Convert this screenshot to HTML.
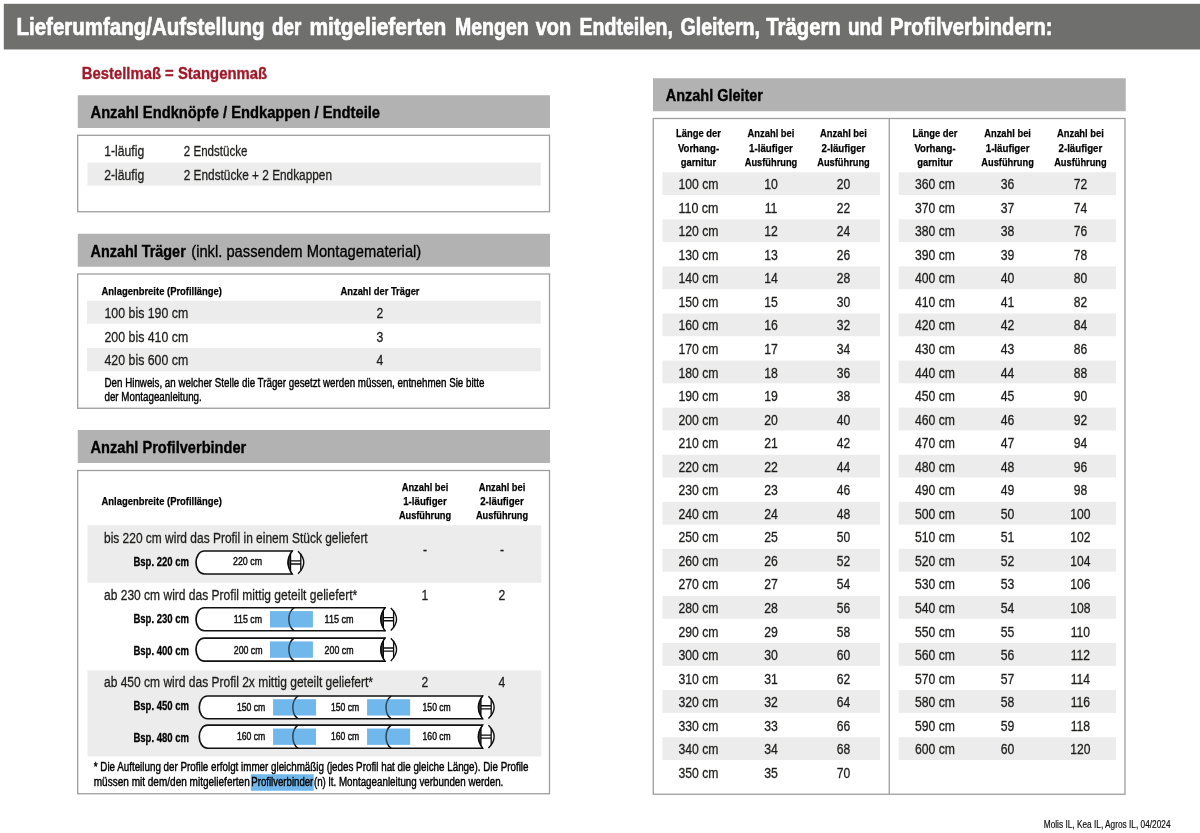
<!DOCTYPE html>
<html lang="de"><head><meta charset="utf-8"><title>Lieferumfang</title>
<style>html,body{margin:0;padding:0;background:#fff}svg{display:block}text{font-family:"Liberation Sans",sans-serif;fill:#1d1d1b;stroke:#1d1d1b;stroke-width:.22px;stroke-linejoin:round}.b{font-weight:bold;stroke-width:.5px}</style></head>
<body>
<svg width="1200" height="833" viewBox="0 0 1200 833" >
<rect x="3.8" y="3.8" width="1196.2" height="45.65" fill="#6f6f6e"/>
<text y="35.35" font-size="23.4" class="b" style="stroke-width:0.7px;fill:#fff;stroke:#fff"><tspan x="16.5" textLength="248" lengthAdjust="spacingAndGlyphs">Lieferumfang/Aufstellung</tspan> <tspan x="272" textLength="29.25" lengthAdjust="spacingAndGlyphs">der</tspan> <tspan x="309.5" textLength="136.75" lengthAdjust="spacingAndGlyphs">mitgelieferten</tspan> <tspan x="455" textLength="73.75" lengthAdjust="spacingAndGlyphs">Mengen</tspan> <tspan x="535.75" textLength="35.5" lengthAdjust="spacingAndGlyphs">von</tspan> <tspan x="579.5" textLength="93.5" lengthAdjust="spacingAndGlyphs">Endteilen,</tspan> <tspan x="680.5" textLength="79.5" lengthAdjust="spacingAndGlyphs">Gleitern,</tspan> <tspan x="766.25" textLength="74.5" lengthAdjust="spacingAndGlyphs">Trägern</tspan> <tspan x="848" textLength="34.5" lengthAdjust="spacingAndGlyphs">und</tspan> <tspan x="890" textLength="162.5" lengthAdjust="spacingAndGlyphs">Profilverbindern:</tspan></text>
<text x="81.75" y="79" font-size="17.26" class="b" style="stroke-width:0.37px;fill:#a01a2a;stroke:#a01a2a" textLength="185.25" lengthAdjust="spacingAndGlyphs">Bestellmaß = Stangenmaß</text>
<rect x="77.75" y="95.25" width="472.25" height="32.75" fill="#b2b2b2"/>
<text x="90.5" y="118.25" font-size="16.43" class="b" style="stroke-width:0.35px;fill:#000;stroke:#000" textLength="289.5" lengthAdjust="spacingAndGlyphs">Anzahl Endknöpfe / Endkappen / Endteile</text>
<rect x="77.7" y="135.3" width="471.8" height="76.45" fill="#fff" stroke="#9e9e9e" stroke-width="1.3"/>
<rect x="87.5" y="162.6" width="453.25" height="22.9" fill="#ececec"/>
<text x="104.25" y="156.25" font-size="14.56" style="stroke-width:0.29px" textLength="40" lengthAdjust="spacingAndGlyphs">1-läufig</text>
<text x="183.75" y="156.25" font-size="14.56" style="stroke-width:0.29px" textLength="63.75" lengthAdjust="spacingAndGlyphs">2 Endstücke</text>
<text x="104.25" y="179.75" font-size="14.56" style="stroke-width:0.29px" textLength="40" lengthAdjust="spacingAndGlyphs">2-läufig</text>
<text x="183.75" y="179.75" font-size="14.56" style="stroke-width:0.29px" textLength="148.25" lengthAdjust="spacingAndGlyphs">2 Endstücke + 2 Endkappen</text>
<rect x="77.75" y="233.75" width="472.25" height="33" fill="#b2b2b2"/>
<text x="90.5" y="257" font-size="16.43" class="b" style="stroke-width:0.35px;fill:#000;stroke:#000" textLength="95.25" lengthAdjust="spacingAndGlyphs">Anzahl Träger</text>
<text x="191.25" y="257" font-size="16.43" style="stroke-width:0.33px;fill:#000;stroke:#000" textLength="230" lengthAdjust="spacingAndGlyphs">(inkl. passendem Montagematerial)</text>
<rect x="77.7" y="274" width="471.8" height="134.25" fill="#fff" stroke="#9e9e9e" stroke-width="1.3"/>
<rect x="87" y="300.75" width="453.75" height="23" fill="#ececec"/>
<rect x="87" y="348" width="453.75" height="23.25" fill="#ececec"/>
<text x="101.5" y="295" font-size="11.65" class="b" style="stroke-width:0.25px;fill:#000;stroke:#000" textLength="120.5" lengthAdjust="spacingAndGlyphs">Anlagenbreite (Profillänge)</text>
<text x="340.5" y="295" font-size="11.65" class="b" style="stroke-width:0.25px;fill:#000;stroke:#000" textLength="79" lengthAdjust="spacingAndGlyphs">Anzahl der Träger</text>
<text x="104.5" y="318" font-size="14.56" style="stroke-width:0.29px" textLength="83.75" lengthAdjust="spacingAndGlyphs">100 bis 190 cm</text>
<text x="376.61" y="318" font-size="14.56" style="stroke-width:0.29px" textLength="6.77" lengthAdjust="spacingAndGlyphs">2</text>
<text x="104.5" y="341.5" font-size="14.56" style="stroke-width:0.29px" textLength="83.75" lengthAdjust="spacingAndGlyphs">200 bis 410 cm</text>
<text x="376.61" y="341.5" font-size="14.56" style="stroke-width:0.29px" textLength="6.77" lengthAdjust="spacingAndGlyphs">3</text>
<text x="104.5" y="365" font-size="14.56" style="stroke-width:0.29px" textLength="83.75" lengthAdjust="spacingAndGlyphs">420 bis 600 cm</text>
<text x="376.61" y="365" font-size="14.56" style="stroke-width:0.29px" textLength="6.77" lengthAdjust="spacingAndGlyphs">4</text>
<text x="104.5" y="387" font-size="12.48" style="stroke-width:0.42px;fill:#000;stroke:#000" textLength="380" lengthAdjust="spacingAndGlyphs">Den Hinweis, an welcher Stelle die Träger gesetzt werden müssen, entnehmen Sie bitte</text>
<text x="104.5" y="400.75" font-size="12.48" style="stroke-width:0.42px;fill:#000;stroke:#000" textLength="97.25" lengthAdjust="spacingAndGlyphs">der Montageanleitung.</text>
<rect x="77.75" y="430" width="472.25" height="33" fill="#b2b2b2"/>
<text x="90.5" y="453.25" font-size="16.43" class="b" style="stroke-width:0.35px;fill:#000;stroke:#000" textLength="155.75" lengthAdjust="spacingAndGlyphs">Anzahl Profilverbinder</text>
<rect x="77.7" y="470.5" width="471.8" height="323.25" fill="#fff" stroke="#9e9e9e" stroke-width="1.3"/>
<rect x="87.5" y="525.3" width="453.7" height="57.5" fill="#ececec"/>
<rect x="87.5" y="670.4" width="453.7" height="86.1" fill="#ececec"/>
<text x="101.5" y="505" font-size="11.65" class="b" style="stroke-width:0.25px;fill:#000;stroke:#000" textLength="120.5" lengthAdjust="spacingAndGlyphs">Anlagenbreite (Profillänge)</text>
<text x="401.7" y="491.1" font-size="11.65" class="b" style="stroke-width:0.25px;fill:#000;stroke:#000" textLength="46.6" lengthAdjust="spacingAndGlyphs">Anzahl bei</text>
<text x="403.2" y="505.1" font-size="11.65" class="b" style="stroke-width:0.25px;fill:#000;stroke:#000" textLength="43.6" lengthAdjust="spacingAndGlyphs">1-läufiger</text>
<text x="398.9" y="519.2" font-size="11.65" class="b" style="stroke-width:0.25px;fill:#000;stroke:#000" textLength="52.2" lengthAdjust="spacingAndGlyphs">Ausführung</text>
<text x="478.7" y="491.1" font-size="11.65" class="b" style="stroke-width:0.25px;fill:#000;stroke:#000" textLength="46.6" lengthAdjust="spacingAndGlyphs">Anzahl bei</text>
<text x="480.2" y="505.1" font-size="11.65" class="b" style="stroke-width:0.25px;fill:#000;stroke:#000" textLength="43.6" lengthAdjust="spacingAndGlyphs">2-läufiger</text>
<text x="475.9" y="519.2" font-size="11.65" class="b" style="stroke-width:0.25px;fill:#000;stroke:#000" textLength="52.2" lengthAdjust="spacingAndGlyphs">Ausführung</text>
<text x="104" y="542.5" font-size="14.56" style="stroke-width:0.29px" textLength="263.7" lengthAdjust="spacingAndGlyphs">bis 220 cm wird das Profil in einem Stück geliefert</text>
<text x="104" y="600" font-size="14.56" style="stroke-width:0.29px" textLength="253.25" lengthAdjust="spacingAndGlyphs">ab 230 cm wird das Profil mittig geteilt geliefert*</text>
<text x="104" y="687.2" font-size="14.56" style="stroke-width:0.29px" textLength="269" lengthAdjust="spacingAndGlyphs">ab 450 cm wird das Profil 2x mittig geteilt geliefert*</text>
<text x="422.97" y="554.5" font-size="14.56" style="stroke-width:0.29px" textLength="4.06" lengthAdjust="spacingAndGlyphs">-</text>
<text x="499.97" y="554.5" font-size="14.56" style="stroke-width:0.29px" textLength="4.06" lengthAdjust="spacingAndGlyphs">-</text>
<text x="421.61" y="600" font-size="14.56" style="stroke-width:0.29px" textLength="6.77" lengthAdjust="spacingAndGlyphs">1</text>
<text x="498.61" y="600" font-size="14.56" style="stroke-width:0.29px" textLength="6.77" lengthAdjust="spacingAndGlyphs">2</text>
<text x="421.61" y="687.2" font-size="14.56" style="stroke-width:0.29px" textLength="6.77" lengthAdjust="spacingAndGlyphs">2</text>
<text x="498.61" y="687.2" font-size="14.56" style="stroke-width:0.29px" textLength="6.77" lengthAdjust="spacingAndGlyphs">4</text>
<text x="133.4" y="565.9" font-size="12.06" class="b" style="stroke-width:0.26px;fill:#000;stroke:#000" textLength="55.7" lengthAdjust="spacingAndGlyphs">Bsp. 220 cm</text>
<text x="133.4" y="623.4" font-size="12.06" class="b" style="stroke-width:0.26px;fill:#000;stroke:#000" textLength="55.7" lengthAdjust="spacingAndGlyphs">Bsp. 230 cm</text>
<text x="133.4" y="655.2" font-size="12.06" class="b" style="stroke-width:0.26px;fill:#000;stroke:#000" textLength="55.7" lengthAdjust="spacingAndGlyphs">Bsp. 400 cm</text>
<text x="133.4" y="710" font-size="12.06" class="b" style="stroke-width:0.26px;fill:#000;stroke:#000" textLength="55.7" lengthAdjust="spacingAndGlyphs">Bsp. 450 cm</text>
<text x="133.4" y="741.8" font-size="12.06" class="b" style="stroke-width:0.26px;fill:#000;stroke:#000" textLength="55.7" lengthAdjust="spacingAndGlyphs">Bsp. 480 cm</text>
<g fill="none" stroke="#111" stroke-width="1.7"><path d="M292.4,551 H204.5 C199,551 196,557 196,562.5 C196,568 199,574 204.5,574 H292.4 Z" fill="#fff"/></g>
<ellipse cx="295.5" cy="562.5" rx="7.4" ry="12.1" fill="#fff"/>
<g fill="none" stroke="#0c0c0c"><path d="M292.4,550.8 Q283.5,562.5 292.4,574.2" stroke-width="1.5"/><path d="M290.6,554.01 Q285.6,562.5 290.6,570.99 Z" fill="#444" stroke-width="1.2"/><path d="M298,551.2 Q309.5,562.5 298,573.8" stroke-width="1.4"/><path d="M300.8,553.7 V571.1 M290.6,560.9 H300.8 M290.6,564 H300.8" stroke-width="1.3"/></g>
<text x="233" y="564.6" font-size="11.02" style="stroke-width:0.45px;fill:#111;stroke:#111" textLength="29" lengthAdjust="spacingAndGlyphs">220 cm</text>
<g fill="none" stroke="#111" stroke-width="1.7"><path d="M385.2,607.75 H204.5 C199,607.75 196,613.75 196,619.25 C196,624.75 199,630.75 204.5,630.75 H385.2 Z" fill="#fff"/></g>
<rect x="270" y="611.15" width="42.9" height="16.2" fill="#70b7ec"/>
<path d="M294.05,607.75 C290.45,610.25 288.85,614.25 288.85,619.25 C288.85,624.25 290.45,628.25 294.05,630.75" fill="none" stroke="#111" stroke-width="1.5"/>
<rect x="270" y="611.15" width="42.9" height="16.2" fill="#70b7ec" opacity=".32"/>
<ellipse cx="388.3" cy="619.25" rx="7.4" ry="12.1" fill="#fff"/>
<g fill="none" stroke="#0c0c0c"><path d="M385.2,607.55 Q376.3,619.25 385.2,630.95" stroke-width="1.5"/><path d="M383.4,610.76 Q378.4,619.25 383.4,627.74 Z" fill="#444" stroke-width="1.2"/><path d="M390.8,607.95 Q402.3,619.25 390.8,630.55" stroke-width="1.4"/><path d="M393.6,610.45 V627.85 M383.4,617.65 H393.6 M383.4,620.75 H393.6" stroke-width="1.3"/></g>
<text x="233.75" y="622.7" font-size="11.02" style="stroke-width:0.45px;fill:#111;stroke:#111" textLength="28.25" lengthAdjust="spacingAndGlyphs">115 cm</text>
<text x="324.6" y="622.7" font-size="11.02" style="stroke-width:0.45px;fill:#111;stroke:#111" textLength="28.9" lengthAdjust="spacingAndGlyphs">115 cm</text>
<g fill="none" stroke="#111" stroke-width="1.7"><path d="M385.2,638.05 H204.5 C199,638.05 196,644.1 196,649.6 C196,655.1 199,661.15 204.5,661.15 H385.2 Z" fill="#fff"/></g>
<rect x="270" y="641.5" width="42.9" height="16.2" fill="#70b7ec"/>
<path d="M294.05,638.05 C290.45,640.55 288.85,644.6 288.85,649.6 C288.85,654.6 290.45,658.65 294.05,661.15" fill="none" stroke="#111" stroke-width="1.5"/>
<rect x="270" y="641.5" width="42.9" height="16.2" fill="#70b7ec" opacity=".32"/>
<ellipse cx="388.3" cy="649.6" rx="7.4" ry="12.15" fill="#fff"/>
<g fill="none" stroke="#0c0c0c"><path d="M385.2,637.85 Q376.3,649.6 385.2,661.35" stroke-width="1.5"/><path d="M383.4,641.07 Q378.4,649.6 383.4,658.13 Z" fill="#444" stroke-width="1.2"/><path d="M390.8,638.25 Q402.3,649.6 390.8,660.95" stroke-width="1.4"/><path d="M393.6,640.8 V658.2 M383.4,648 H393.6 M383.4,651.1 H393.6" stroke-width="1.3"/></g>
<text x="233.75" y="653.5" font-size="11.02" style="stroke-width:0.45px;fill:#111;stroke:#111" textLength="28.85" lengthAdjust="spacingAndGlyphs">200 cm</text>
<text x="324.6" y="653.5" font-size="11.02" style="stroke-width:0.45px;fill:#111;stroke:#111" textLength="28.9" lengthAdjust="spacingAndGlyphs">200 cm</text>
<g fill="none" stroke="#111" stroke-width="1.7"><path d="M482.8,696 H207.75 C202.25,696 199.25,701.88 199.25,707.38 C199.25,712.88 202.25,718.75 207.75,718.75 H482.8 Z" fill="#fff"/></g>
<rect x="273.1" y="699.27" width="42.9" height="16.2" fill="#70b7ec"/>
<rect x="367.1" y="699.27" width="43" height="16.2" fill="#70b7ec"/>
<path d="M298.05,696 C294.45,698.5 292.85,702.38 292.85,707.38 C292.85,712.38 294.45,716.25 298.05,718.75" fill="none" stroke="#111" stroke-width="1.5"/>
<path d="M391.25,696 C387.65,698.5 386.05,702.38 386.05,707.38 C386.05,712.38 387.65,716.25 391.25,718.75" fill="none" stroke="#111" stroke-width="1.5"/>
<rect x="273.1" y="699.27" width="42.9" height="16.2" fill="#70b7ec" opacity=".32"/>
<rect x="367.1" y="699.27" width="43" height="16.2" fill="#70b7ec" opacity=".32"/>
<ellipse cx="485.9" cy="707.38" rx="7.4" ry="11.97" fill="#fff"/>
<g fill="none" stroke="#0c0c0c"><path d="M482.8,695.8 Q473.9,707.38 482.8,718.95" stroke-width="1.5"/><path d="M481,698.97 Q476,707.38 481,715.78 Z" fill="#444" stroke-width="1.2"/><path d="M488.4,696.2 Q499.9,707.38 488.4,718.55" stroke-width="1.4"/><path d="M491.2,698.58 V715.98 M481,705.77 H491.2 M481,708.88 H491.2" stroke-width="1.3"/></g>
<text x="236.9" y="710.6" font-size="11.02" style="stroke-width:0.45px;fill:#111;stroke:#111" textLength="28.35" lengthAdjust="spacingAndGlyphs">150 cm</text>
<text x="331" y="710.6" font-size="11.02" style="stroke-width:0.45px;fill:#111;stroke:#111" textLength="28.2" lengthAdjust="spacingAndGlyphs">150 cm</text>
<text x="422.6" y="710.6" font-size="11.02" style="stroke-width:0.45px;fill:#111;stroke:#111" textLength="28.1" lengthAdjust="spacingAndGlyphs">150 cm</text>
<g fill="none" stroke="#111" stroke-width="1.7"><path d="M482.8,725.15 H207.75 C202.25,725.15 199.25,731.2 199.25,736.7 C199.25,742.2 202.25,748.25 207.75,748.25 H482.8 Z" fill="#fff"/></g>
<rect x="273.1" y="728.6" width="42.9" height="16.2" fill="#70b7ec"/>
<rect x="367.1" y="728.6" width="43" height="16.2" fill="#70b7ec"/>
<path d="M298.05,725.15 C294.45,727.65 292.85,731.7 292.85,736.7 C292.85,741.7 294.45,745.75 298.05,748.25" fill="none" stroke="#111" stroke-width="1.5"/>
<path d="M391.25,725.15 C387.65,727.65 386.05,731.7 386.05,736.7 C386.05,741.7 387.65,745.75 391.25,748.25" fill="none" stroke="#111" stroke-width="1.5"/>
<rect x="273.1" y="728.6" width="42.9" height="16.2" fill="#70b7ec" opacity=".32"/>
<rect x="367.1" y="728.6" width="43" height="16.2" fill="#70b7ec" opacity=".32"/>
<ellipse cx="485.9" cy="736.7" rx="7.4" ry="12.15" fill="#fff"/>
<g fill="none" stroke="#0c0c0c"><path d="M482.8,724.95 Q473.9,736.7 482.8,748.45" stroke-width="1.5"/><path d="M481,728.17 Q476,736.7 481,745.23 Z" fill="#444" stroke-width="1.2"/><path d="M488.4,725.35 Q499.9,736.7 488.4,748.05" stroke-width="1.4"/><path d="M491.2,727.9 V745.3 M481,735.1 H491.2 M481,738.2 H491.2" stroke-width="1.3"/></g>
<text x="236.9" y="739.6" font-size="11.02" style="stroke-width:0.45px;fill:#111;stroke:#111" textLength="28.35" lengthAdjust="spacingAndGlyphs">160 cm</text>
<text x="331" y="739.6" font-size="11.02" style="stroke-width:0.45px;fill:#111;stroke:#111" textLength="28.2" lengthAdjust="spacingAndGlyphs">160 cm</text>
<text x="422.6" y="739.6" font-size="11.02" style="stroke-width:0.45px;fill:#111;stroke:#111" textLength="28.1" lengthAdjust="spacingAndGlyphs">160 cm</text>
<rect x="250.75" y="774.25" width="63" height="16.5" fill="#70b7ec"/>
<text x="93.75" y="771.25" font-size="12.48" style="stroke-width:0.42px;fill:#000;stroke:#000" textLength="434.75" lengthAdjust="spacingAndGlyphs">* Die Aufteilung der Profile erfolgt immer gleichmäßig (jedes Profil hat die gleiche Länge). Die Profile</text>
<text x="93.75" y="785.75" font-size="12.48" style="stroke-width:0.42px;fill:#000;stroke:#000" textLength="156" lengthAdjust="spacingAndGlyphs">müssen mit dem/den mitgelieferten</text>
<text x="251.3" y="785.75" font-size="12.48" style="stroke-width:0.42px;fill:#000;stroke:#000" textLength="62" lengthAdjust="spacingAndGlyphs">Profilverbinder</text>
<text x="313.9" y="785.75" font-size="12.48" style="stroke-width:0.42px;fill:#000;stroke:#000" textLength="189.4" lengthAdjust="spacingAndGlyphs">(n) lt. Montageanleitung verbunden werden.</text>
<rect x="653" y="78.25" width="472.75" height="33" fill="#b2b2b2"/>
<text x="665.75" y="101.25" font-size="16.43" class="b" style="stroke-width:0.35px;fill:#000;stroke:#000" textLength="97.25" lengthAdjust="spacingAndGlyphs">Anzahl Gleiter</text>
<rect x="653.25" y="118.5" width="471.75" height="675.75" fill="#fff" stroke="#9e9e9e" stroke-width="1.3"/>
<path d="M889.25,118.5 V794.25" stroke="#9e9e9e" stroke-width="1.3"/>
<rect x="662.5" y="172.25" width="217.5" height="22.75" fill="#ececec"/>
<rect x="662.5" y="219.33" width="217.5" height="22.75" fill="#ececec"/>
<rect x="662.5" y="266.41" width="217.5" height="22.75" fill="#ececec"/>
<rect x="662.5" y="313.49" width="217.5" height="22.75" fill="#ececec"/>
<rect x="662.5" y="360.57" width="217.5" height="22.75" fill="#ececec"/>
<rect x="662.5" y="407.65" width="217.5" height="22.75" fill="#ececec"/>
<rect x="662.5" y="454.73" width="217.5" height="22.75" fill="#ececec"/>
<rect x="662.5" y="501.81" width="217.5" height="22.75" fill="#ececec"/>
<rect x="662.5" y="548.89" width="217.5" height="22.75" fill="#ececec"/>
<rect x="662.5" y="595.97" width="217.5" height="22.75" fill="#ececec"/>
<rect x="662.5" y="643.05" width="217.5" height="22.75" fill="#ececec"/>
<rect x="662.5" y="690.13" width="217.5" height="22.75" fill="#ececec"/>
<rect x="662.5" y="737.21" width="217.5" height="22.75" fill="#ececec"/>
<text x="676" y="137" font-size="11.65" class="b" style="stroke-width:0.25px;fill:#000;stroke:#000" textLength="45" lengthAdjust="spacingAndGlyphs">Länge der</text>
<text x="677.88" y="151.5" font-size="11.65" class="b" style="stroke-width:0.25px;fill:#000;stroke:#000" textLength="41.25" lengthAdjust="spacingAndGlyphs">Vorhang-</text>
<text x="680.75" y="166" font-size="11.65" class="b" style="stroke-width:0.25px;fill:#000;stroke:#000" textLength="35.5" lengthAdjust="spacingAndGlyphs">garnitur</text>
<text x="747.62" y="137" font-size="11.65" class="b" style="stroke-width:0.25px;fill:#000;stroke:#000" textLength="46.75" lengthAdjust="spacingAndGlyphs">Anzahl bei</text>
<text x="749.12" y="151.5" font-size="11.65" class="b" style="stroke-width:0.25px;fill:#000;stroke:#000" textLength="43.75" lengthAdjust="spacingAndGlyphs">1-läufiger</text>
<text x="744.75" y="166" font-size="11.65" class="b" style="stroke-width:0.25px;fill:#000;stroke:#000" textLength="52.5" lengthAdjust="spacingAndGlyphs">Ausführung</text>
<text x="820.12" y="137" font-size="11.65" class="b" style="stroke-width:0.25px;fill:#000;stroke:#000" textLength="46.75" lengthAdjust="spacingAndGlyphs">Anzahl bei</text>
<text x="821.62" y="151.5" font-size="11.65" class="b" style="stroke-width:0.25px;fill:#000;stroke:#000" textLength="43.75" lengthAdjust="spacingAndGlyphs">2-läufiger</text>
<text x="817.25" y="166" font-size="11.65" class="b" style="stroke-width:0.25px;fill:#000;stroke:#000" textLength="52.5" lengthAdjust="spacingAndGlyphs">Ausführung</text>
<text x="678.5" y="189.25" font-size="14.98" style="stroke-width:0.3px" textLength="40" lengthAdjust="spacingAndGlyphs">100 cm</text>
<text x="764.19" y="189.25" font-size="14.98" style="stroke-width:0.3px" textLength="13.61" lengthAdjust="spacingAndGlyphs">10</text>
<text x="836.77" y="189.25" font-size="14.98" style="stroke-width:0.3px" textLength="13.45" lengthAdjust="spacingAndGlyphs">20</text>
<text x="678.5" y="212.79" font-size="14.98" style="stroke-width:0.3px" textLength="40" lengthAdjust="spacingAndGlyphs">110 cm</text>
<text x="764.65" y="212.79" font-size="14.98" style="stroke-width:0.3px" textLength="12.71" lengthAdjust="spacingAndGlyphs">11</text>
<text x="836.77" y="212.79" font-size="14.98" style="stroke-width:0.3px" textLength="13.45" lengthAdjust="spacingAndGlyphs">22</text>
<text x="678.5" y="236.33" font-size="14.98" style="stroke-width:0.3px" textLength="40" lengthAdjust="spacingAndGlyphs">120 cm</text>
<text x="764.19" y="236.33" font-size="14.98" style="stroke-width:0.3px" textLength="13.61" lengthAdjust="spacingAndGlyphs">12</text>
<text x="836.77" y="236.33" font-size="14.98" style="stroke-width:0.3px" textLength="13.45" lengthAdjust="spacingAndGlyphs">24</text>
<text x="678.5" y="259.87" font-size="14.98" style="stroke-width:0.3px" textLength="40" lengthAdjust="spacingAndGlyphs">130 cm</text>
<text x="764.19" y="259.87" font-size="14.98" style="stroke-width:0.3px" textLength="13.61" lengthAdjust="spacingAndGlyphs">13</text>
<text x="836.77" y="259.87" font-size="14.98" style="stroke-width:0.3px" textLength="13.45" lengthAdjust="spacingAndGlyphs">26</text>
<text x="678.5" y="283.41" font-size="14.98" style="stroke-width:0.3px" textLength="40" lengthAdjust="spacingAndGlyphs">140 cm</text>
<text x="764.19" y="283.41" font-size="14.98" style="stroke-width:0.3px" textLength="13.61" lengthAdjust="spacingAndGlyphs">14</text>
<text x="836.77" y="283.41" font-size="14.98" style="stroke-width:0.3px" textLength="13.45" lengthAdjust="spacingAndGlyphs">28</text>
<text x="678.5" y="306.95" font-size="14.98" style="stroke-width:0.3px" textLength="40" lengthAdjust="spacingAndGlyphs">150 cm</text>
<text x="764.19" y="306.95" font-size="14.98" style="stroke-width:0.3px" textLength="13.61" lengthAdjust="spacingAndGlyphs">15</text>
<text x="836.77" y="306.95" font-size="14.98" style="stroke-width:0.3px" textLength="13.45" lengthAdjust="spacingAndGlyphs">30</text>
<text x="678.5" y="330.49" font-size="14.98" style="stroke-width:0.3px" textLength="40" lengthAdjust="spacingAndGlyphs">160 cm</text>
<text x="764.19" y="330.49" font-size="14.98" style="stroke-width:0.3px" textLength="13.61" lengthAdjust="spacingAndGlyphs">16</text>
<text x="836.77" y="330.49" font-size="14.98" style="stroke-width:0.3px" textLength="13.45" lengthAdjust="spacingAndGlyphs">32</text>
<text x="678.5" y="354.03" font-size="14.98" style="stroke-width:0.3px" textLength="40" lengthAdjust="spacingAndGlyphs">170 cm</text>
<text x="764.19" y="354.03" font-size="14.98" style="stroke-width:0.3px" textLength="13.61" lengthAdjust="spacingAndGlyphs">17</text>
<text x="836.77" y="354.03" font-size="14.98" style="stroke-width:0.3px" textLength="13.45" lengthAdjust="spacingAndGlyphs">34</text>
<text x="678.5" y="377.57" font-size="14.98" style="stroke-width:0.3px" textLength="40" lengthAdjust="spacingAndGlyphs">180 cm</text>
<text x="764.19" y="377.57" font-size="14.98" style="stroke-width:0.3px" textLength="13.61" lengthAdjust="spacingAndGlyphs">18</text>
<text x="836.77" y="377.57" font-size="14.98" style="stroke-width:0.3px" textLength="13.45" lengthAdjust="spacingAndGlyphs">36</text>
<text x="678.5" y="401.11" font-size="14.98" style="stroke-width:0.3px" textLength="40" lengthAdjust="spacingAndGlyphs">190 cm</text>
<text x="764.19" y="401.11" font-size="14.98" style="stroke-width:0.3px" textLength="13.61" lengthAdjust="spacingAndGlyphs">19</text>
<text x="836.77" y="401.11" font-size="14.98" style="stroke-width:0.3px" textLength="13.45" lengthAdjust="spacingAndGlyphs">38</text>
<text x="678.5" y="424.65" font-size="14.98" style="stroke-width:0.3px" textLength="40" lengthAdjust="spacingAndGlyphs">200 cm</text>
<text x="764.19" y="424.65" font-size="14.98" style="stroke-width:0.3px" textLength="13.61" lengthAdjust="spacingAndGlyphs">20</text>
<text x="836.77" y="424.65" font-size="14.98" style="stroke-width:0.3px" textLength="13.45" lengthAdjust="spacingAndGlyphs">40</text>
<text x="678.5" y="448.19" font-size="14.98" style="stroke-width:0.3px" textLength="40" lengthAdjust="spacingAndGlyphs">210 cm</text>
<text x="764.19" y="448.19" font-size="14.98" style="stroke-width:0.3px" textLength="13.61" lengthAdjust="spacingAndGlyphs">21</text>
<text x="836.77" y="448.19" font-size="14.98" style="stroke-width:0.3px" textLength="13.45" lengthAdjust="spacingAndGlyphs">42</text>
<text x="678.5" y="471.73" font-size="14.98" style="stroke-width:0.3px" textLength="40" lengthAdjust="spacingAndGlyphs">220 cm</text>
<text x="764.19" y="471.73" font-size="14.98" style="stroke-width:0.3px" textLength="13.61" lengthAdjust="spacingAndGlyphs">22</text>
<text x="836.77" y="471.73" font-size="14.98" style="stroke-width:0.3px" textLength="13.45" lengthAdjust="spacingAndGlyphs">44</text>
<text x="678.5" y="495.27" font-size="14.98" style="stroke-width:0.3px" textLength="40" lengthAdjust="spacingAndGlyphs">230 cm</text>
<text x="764.19" y="495.27" font-size="14.98" style="stroke-width:0.3px" textLength="13.61" lengthAdjust="spacingAndGlyphs">23</text>
<text x="836.77" y="495.27" font-size="14.98" style="stroke-width:0.3px" textLength="13.45" lengthAdjust="spacingAndGlyphs">46</text>
<text x="678.5" y="518.81" font-size="14.98" style="stroke-width:0.3px" textLength="40" lengthAdjust="spacingAndGlyphs">240 cm</text>
<text x="764.19" y="518.81" font-size="14.98" style="stroke-width:0.3px" textLength="13.61" lengthAdjust="spacingAndGlyphs">24</text>
<text x="836.77" y="518.81" font-size="14.98" style="stroke-width:0.3px" textLength="13.45" lengthAdjust="spacingAndGlyphs">48</text>
<text x="678.5" y="542.35" font-size="14.98" style="stroke-width:0.3px" textLength="40" lengthAdjust="spacingAndGlyphs">250 cm</text>
<text x="764.19" y="542.35" font-size="14.98" style="stroke-width:0.3px" textLength="13.61" lengthAdjust="spacingAndGlyphs">25</text>
<text x="836.77" y="542.35" font-size="14.98" style="stroke-width:0.3px" textLength="13.45" lengthAdjust="spacingAndGlyphs">50</text>
<text x="678.5" y="565.89" font-size="14.98" style="stroke-width:0.3px" textLength="40" lengthAdjust="spacingAndGlyphs">260 cm</text>
<text x="764.19" y="565.89" font-size="14.98" style="stroke-width:0.3px" textLength="13.61" lengthAdjust="spacingAndGlyphs">26</text>
<text x="836.77" y="565.89" font-size="14.98" style="stroke-width:0.3px" textLength="13.45" lengthAdjust="spacingAndGlyphs">52</text>
<text x="678.5" y="589.43" font-size="14.98" style="stroke-width:0.3px" textLength="40" lengthAdjust="spacingAndGlyphs">270 cm</text>
<text x="764.19" y="589.43" font-size="14.98" style="stroke-width:0.3px" textLength="13.61" lengthAdjust="spacingAndGlyphs">27</text>
<text x="836.77" y="589.43" font-size="14.98" style="stroke-width:0.3px" textLength="13.45" lengthAdjust="spacingAndGlyphs">54</text>
<text x="678.5" y="612.97" font-size="14.98" style="stroke-width:0.3px" textLength="40" lengthAdjust="spacingAndGlyphs">280 cm</text>
<text x="764.19" y="612.97" font-size="14.98" style="stroke-width:0.3px" textLength="13.61" lengthAdjust="spacingAndGlyphs">28</text>
<text x="836.77" y="612.97" font-size="14.98" style="stroke-width:0.3px" textLength="13.45" lengthAdjust="spacingAndGlyphs">56</text>
<text x="678.5" y="636.51" font-size="14.98" style="stroke-width:0.3px" textLength="40" lengthAdjust="spacingAndGlyphs">290 cm</text>
<text x="764.19" y="636.51" font-size="14.98" style="stroke-width:0.3px" textLength="13.61" lengthAdjust="spacingAndGlyphs">29</text>
<text x="836.77" y="636.51" font-size="14.98" style="stroke-width:0.3px" textLength="13.45" lengthAdjust="spacingAndGlyphs">58</text>
<text x="678.5" y="660.05" font-size="14.98" style="stroke-width:0.3px" textLength="40" lengthAdjust="spacingAndGlyphs">300 cm</text>
<text x="764.19" y="660.05" font-size="14.98" style="stroke-width:0.3px" textLength="13.61" lengthAdjust="spacingAndGlyphs">30</text>
<text x="836.77" y="660.05" font-size="14.98" style="stroke-width:0.3px" textLength="13.45" lengthAdjust="spacingAndGlyphs">60</text>
<text x="678.5" y="683.59" font-size="14.98" style="stroke-width:0.3px" textLength="40" lengthAdjust="spacingAndGlyphs">310 cm</text>
<text x="764.19" y="683.59" font-size="14.98" style="stroke-width:0.3px" textLength="13.61" lengthAdjust="spacingAndGlyphs">31</text>
<text x="836.77" y="683.59" font-size="14.98" style="stroke-width:0.3px" textLength="13.45" lengthAdjust="spacingAndGlyphs">62</text>
<text x="678.5" y="707.13" font-size="14.98" style="stroke-width:0.3px" textLength="40" lengthAdjust="spacingAndGlyphs">320 cm</text>
<text x="764.19" y="707.13" font-size="14.98" style="stroke-width:0.3px" textLength="13.61" lengthAdjust="spacingAndGlyphs">32</text>
<text x="836.77" y="707.13" font-size="14.98" style="stroke-width:0.3px" textLength="13.45" lengthAdjust="spacingAndGlyphs">64</text>
<text x="678.5" y="730.67" font-size="14.98" style="stroke-width:0.3px" textLength="40" lengthAdjust="spacingAndGlyphs">330 cm</text>
<text x="764.19" y="730.67" font-size="14.98" style="stroke-width:0.3px" textLength="13.61" lengthAdjust="spacingAndGlyphs">33</text>
<text x="836.77" y="730.67" font-size="14.98" style="stroke-width:0.3px" textLength="13.45" lengthAdjust="spacingAndGlyphs">66</text>
<text x="678.5" y="754.21" font-size="14.98" style="stroke-width:0.3px" textLength="40" lengthAdjust="spacingAndGlyphs">340 cm</text>
<text x="764.19" y="754.21" font-size="14.98" style="stroke-width:0.3px" textLength="13.61" lengthAdjust="spacingAndGlyphs">34</text>
<text x="836.77" y="754.21" font-size="14.98" style="stroke-width:0.3px" textLength="13.45" lengthAdjust="spacingAndGlyphs">68</text>
<text x="678.5" y="777.75" font-size="14.98" style="stroke-width:0.3px" textLength="40" lengthAdjust="spacingAndGlyphs">350 cm</text>
<text x="764.19" y="777.75" font-size="14.98" style="stroke-width:0.3px" textLength="13.61" lengthAdjust="spacingAndGlyphs">35</text>
<text x="836.77" y="777.75" font-size="14.98" style="stroke-width:0.3px" textLength="13.45" lengthAdjust="spacingAndGlyphs">70</text>
<rect x="898.75" y="172.25" width="217.25" height="22.75" fill="#ececec"/>
<rect x="898.75" y="219.33" width="217.25" height="22.75" fill="#ececec"/>
<rect x="898.75" y="266.41" width="217.25" height="22.75" fill="#ececec"/>
<rect x="898.75" y="313.49" width="217.25" height="22.75" fill="#ececec"/>
<rect x="898.75" y="360.57" width="217.25" height="22.75" fill="#ececec"/>
<rect x="898.75" y="407.65" width="217.25" height="22.75" fill="#ececec"/>
<rect x="898.75" y="454.73" width="217.25" height="22.75" fill="#ececec"/>
<rect x="898.75" y="501.81" width="217.25" height="22.75" fill="#ececec"/>
<rect x="898.75" y="548.89" width="217.25" height="22.75" fill="#ececec"/>
<rect x="898.75" y="595.97" width="217.25" height="22.75" fill="#ececec"/>
<rect x="898.75" y="643.05" width="217.25" height="22.75" fill="#ececec"/>
<rect x="898.75" y="690.13" width="217.25" height="22.75" fill="#ececec"/>
<rect x="898.75" y="737.21" width="217.25" height="22.75" fill="#ececec"/>
<text x="912.5" y="137" font-size="11.65" class="b" style="stroke-width:0.25px;fill:#000;stroke:#000" textLength="45" lengthAdjust="spacingAndGlyphs">Länge der</text>
<text x="914.38" y="151.5" font-size="11.65" class="b" style="stroke-width:0.25px;fill:#000;stroke:#000" textLength="41.25" lengthAdjust="spacingAndGlyphs">Vorhang-</text>
<text x="917.25" y="166" font-size="11.65" class="b" style="stroke-width:0.25px;fill:#000;stroke:#000" textLength="35.5" lengthAdjust="spacingAndGlyphs">garnitur</text>
<text x="984.23" y="137" font-size="11.65" class="b" style="stroke-width:0.25px;fill:#000;stroke:#000" textLength="46.75" lengthAdjust="spacingAndGlyphs">Anzahl bei</text>
<text x="985.73" y="151.5" font-size="11.65" class="b" style="stroke-width:0.25px;fill:#000;stroke:#000" textLength="43.75" lengthAdjust="spacingAndGlyphs">1-läufiger</text>
<text x="981.35" y="166" font-size="11.65" class="b" style="stroke-width:0.25px;fill:#000;stroke:#000" textLength="52.5" lengthAdjust="spacingAndGlyphs">Ausführung</text>
<text x="1057.03" y="137" font-size="11.65" class="b" style="stroke-width:0.25px;fill:#000;stroke:#000" textLength="46.75" lengthAdjust="spacingAndGlyphs">Anzahl bei</text>
<text x="1058.53" y="151.5" font-size="11.65" class="b" style="stroke-width:0.25px;fill:#000;stroke:#000" textLength="43.75" lengthAdjust="spacingAndGlyphs">2-läufiger</text>
<text x="1054.15" y="166" font-size="11.65" class="b" style="stroke-width:0.25px;fill:#000;stroke:#000" textLength="52.5" lengthAdjust="spacingAndGlyphs">Ausführung</text>
<text x="915" y="189.25" font-size="14.98" style="stroke-width:0.3px" textLength="40" lengthAdjust="spacingAndGlyphs">360 cm</text>
<text x="1000.79" y="189.25" font-size="14.98" style="stroke-width:0.3px" textLength="13.61" lengthAdjust="spacingAndGlyphs">36</text>
<text x="1073.67" y="189.25" font-size="14.98" style="stroke-width:0.3px" textLength="13.45" lengthAdjust="spacingAndGlyphs">72</text>
<text x="915" y="212.79" font-size="14.98" style="stroke-width:0.3px" textLength="40" lengthAdjust="spacingAndGlyphs">370 cm</text>
<text x="1000.79" y="212.79" font-size="14.98" style="stroke-width:0.3px" textLength="13.61" lengthAdjust="spacingAndGlyphs">37</text>
<text x="1073.67" y="212.79" font-size="14.98" style="stroke-width:0.3px" textLength="13.45" lengthAdjust="spacingAndGlyphs">74</text>
<text x="915" y="236.33" font-size="14.98" style="stroke-width:0.3px" textLength="40" lengthAdjust="spacingAndGlyphs">380 cm</text>
<text x="1000.79" y="236.33" font-size="14.98" style="stroke-width:0.3px" textLength="13.61" lengthAdjust="spacingAndGlyphs">38</text>
<text x="1073.67" y="236.33" font-size="14.98" style="stroke-width:0.3px" textLength="13.45" lengthAdjust="spacingAndGlyphs">76</text>
<text x="915" y="259.87" font-size="14.98" style="stroke-width:0.3px" textLength="40" lengthAdjust="spacingAndGlyphs">390 cm</text>
<text x="1000.79" y="259.87" font-size="14.98" style="stroke-width:0.3px" textLength="13.61" lengthAdjust="spacingAndGlyphs">39</text>
<text x="1073.67" y="259.87" font-size="14.98" style="stroke-width:0.3px" textLength="13.45" lengthAdjust="spacingAndGlyphs">78</text>
<text x="915" y="283.41" font-size="14.98" style="stroke-width:0.3px" textLength="40" lengthAdjust="spacingAndGlyphs">400 cm</text>
<text x="1000.79" y="283.41" font-size="14.98" style="stroke-width:0.3px" textLength="13.61" lengthAdjust="spacingAndGlyphs">40</text>
<text x="1073.67" y="283.41" font-size="14.98" style="stroke-width:0.3px" textLength="13.45" lengthAdjust="spacingAndGlyphs">80</text>
<text x="915" y="306.95" font-size="14.98" style="stroke-width:0.3px" textLength="40" lengthAdjust="spacingAndGlyphs">410 cm</text>
<text x="1000.79" y="306.95" font-size="14.98" style="stroke-width:0.3px" textLength="13.61" lengthAdjust="spacingAndGlyphs">41</text>
<text x="1073.67" y="306.95" font-size="14.98" style="stroke-width:0.3px" textLength="13.45" lengthAdjust="spacingAndGlyphs">82</text>
<text x="915" y="330.49" font-size="14.98" style="stroke-width:0.3px" textLength="40" lengthAdjust="spacingAndGlyphs">420 cm</text>
<text x="1000.79" y="330.49" font-size="14.98" style="stroke-width:0.3px" textLength="13.61" lengthAdjust="spacingAndGlyphs">42</text>
<text x="1073.67" y="330.49" font-size="14.98" style="stroke-width:0.3px" textLength="13.45" lengthAdjust="spacingAndGlyphs">84</text>
<text x="915" y="354.03" font-size="14.98" style="stroke-width:0.3px" textLength="40" lengthAdjust="spacingAndGlyphs">430 cm</text>
<text x="1000.79" y="354.03" font-size="14.98" style="stroke-width:0.3px" textLength="13.61" lengthAdjust="spacingAndGlyphs">43</text>
<text x="1073.67" y="354.03" font-size="14.98" style="stroke-width:0.3px" textLength="13.45" lengthAdjust="spacingAndGlyphs">86</text>
<text x="915" y="377.57" font-size="14.98" style="stroke-width:0.3px" textLength="40" lengthAdjust="spacingAndGlyphs">440 cm</text>
<text x="1000.79" y="377.57" font-size="14.98" style="stroke-width:0.3px" textLength="13.61" lengthAdjust="spacingAndGlyphs">44</text>
<text x="1073.67" y="377.57" font-size="14.98" style="stroke-width:0.3px" textLength="13.45" lengthAdjust="spacingAndGlyphs">88</text>
<text x="915" y="401.11" font-size="14.98" style="stroke-width:0.3px" textLength="40" lengthAdjust="spacingAndGlyphs">450 cm</text>
<text x="1000.79" y="401.11" font-size="14.98" style="stroke-width:0.3px" textLength="13.61" lengthAdjust="spacingAndGlyphs">45</text>
<text x="1073.67" y="401.11" font-size="14.98" style="stroke-width:0.3px" textLength="13.45" lengthAdjust="spacingAndGlyphs">90</text>
<text x="915" y="424.65" font-size="14.98" style="stroke-width:0.3px" textLength="40" lengthAdjust="spacingAndGlyphs">460 cm</text>
<text x="1000.79" y="424.65" font-size="14.98" style="stroke-width:0.3px" textLength="13.61" lengthAdjust="spacingAndGlyphs">46</text>
<text x="1073.67" y="424.65" font-size="14.98" style="stroke-width:0.3px" textLength="13.45" lengthAdjust="spacingAndGlyphs">92</text>
<text x="915" y="448.19" font-size="14.98" style="stroke-width:0.3px" textLength="40" lengthAdjust="spacingAndGlyphs">470 cm</text>
<text x="1000.79" y="448.19" font-size="14.98" style="stroke-width:0.3px" textLength="13.61" lengthAdjust="spacingAndGlyphs">47</text>
<text x="1073.67" y="448.19" font-size="14.98" style="stroke-width:0.3px" textLength="13.45" lengthAdjust="spacingAndGlyphs">94</text>
<text x="915" y="471.73" font-size="14.98" style="stroke-width:0.3px" textLength="40" lengthAdjust="spacingAndGlyphs">480 cm</text>
<text x="1000.79" y="471.73" font-size="14.98" style="stroke-width:0.3px" textLength="13.61" lengthAdjust="spacingAndGlyphs">48</text>
<text x="1073.67" y="471.73" font-size="14.98" style="stroke-width:0.3px" textLength="13.45" lengthAdjust="spacingAndGlyphs">96</text>
<text x="915" y="495.27" font-size="14.98" style="stroke-width:0.3px" textLength="40" lengthAdjust="spacingAndGlyphs">490 cm</text>
<text x="1000.79" y="495.27" font-size="14.98" style="stroke-width:0.3px" textLength="13.61" lengthAdjust="spacingAndGlyphs">49</text>
<text x="1073.67" y="495.27" font-size="14.98" style="stroke-width:0.3px" textLength="13.45" lengthAdjust="spacingAndGlyphs">98</text>
<text x="915" y="518.81" font-size="14.98" style="stroke-width:0.3px" textLength="40" lengthAdjust="spacingAndGlyphs">500 cm</text>
<text x="1000.79" y="518.81" font-size="14.98" style="stroke-width:0.3px" textLength="13.61" lengthAdjust="spacingAndGlyphs">50</text>
<text x="1070.31" y="518.81" font-size="14.98" style="stroke-width:0.3px" textLength="20.18" lengthAdjust="spacingAndGlyphs">100</text>
<text x="915" y="542.35" font-size="14.98" style="stroke-width:0.3px" textLength="40" lengthAdjust="spacingAndGlyphs">510 cm</text>
<text x="1000.79" y="542.35" font-size="14.98" style="stroke-width:0.3px" textLength="13.61" lengthAdjust="spacingAndGlyphs">51</text>
<text x="1070.31" y="542.35" font-size="14.98" style="stroke-width:0.3px" textLength="20.18" lengthAdjust="spacingAndGlyphs">102</text>
<text x="915" y="565.89" font-size="14.98" style="stroke-width:0.3px" textLength="40" lengthAdjust="spacingAndGlyphs">520 cm</text>
<text x="1000.79" y="565.89" font-size="14.98" style="stroke-width:0.3px" textLength="13.61" lengthAdjust="spacingAndGlyphs">52</text>
<text x="1070.31" y="565.89" font-size="14.98" style="stroke-width:0.3px" textLength="20.18" lengthAdjust="spacingAndGlyphs">104</text>
<text x="915" y="589.43" font-size="14.98" style="stroke-width:0.3px" textLength="40" lengthAdjust="spacingAndGlyphs">530 cm</text>
<text x="1000.79" y="589.43" font-size="14.98" style="stroke-width:0.3px" textLength="13.61" lengthAdjust="spacingAndGlyphs">53</text>
<text x="1070.31" y="589.43" font-size="14.98" style="stroke-width:0.3px" textLength="20.18" lengthAdjust="spacingAndGlyphs">106</text>
<text x="915" y="612.97" font-size="14.98" style="stroke-width:0.3px" textLength="40" lengthAdjust="spacingAndGlyphs">540 cm</text>
<text x="1000.79" y="612.97" font-size="14.98" style="stroke-width:0.3px" textLength="13.61" lengthAdjust="spacingAndGlyphs">54</text>
<text x="1070.31" y="612.97" font-size="14.98" style="stroke-width:0.3px" textLength="20.18" lengthAdjust="spacingAndGlyphs">108</text>
<text x="915" y="636.51" font-size="14.98" style="stroke-width:0.3px" textLength="40" lengthAdjust="spacingAndGlyphs">550 cm</text>
<text x="1000.79" y="636.51" font-size="14.98" style="stroke-width:0.3px" textLength="13.61" lengthAdjust="spacingAndGlyphs">55</text>
<text x="1070.76" y="636.51" font-size="14.98" style="stroke-width:0.3px" textLength="19.28" lengthAdjust="spacingAndGlyphs">110</text>
<text x="915" y="660.05" font-size="14.98" style="stroke-width:0.3px" textLength="40" lengthAdjust="spacingAndGlyphs">560 cm</text>
<text x="1000.79" y="660.05" font-size="14.98" style="stroke-width:0.3px" textLength="13.61" lengthAdjust="spacingAndGlyphs">56</text>
<text x="1070.76" y="660.05" font-size="14.98" style="stroke-width:0.3px" textLength="19.28" lengthAdjust="spacingAndGlyphs">112</text>
<text x="915" y="683.59" font-size="14.98" style="stroke-width:0.3px" textLength="40" lengthAdjust="spacingAndGlyphs">570 cm</text>
<text x="1000.79" y="683.59" font-size="14.98" style="stroke-width:0.3px" textLength="13.61" lengthAdjust="spacingAndGlyphs">57</text>
<text x="1070.76" y="683.59" font-size="14.98" style="stroke-width:0.3px" textLength="19.28" lengthAdjust="spacingAndGlyphs">114</text>
<text x="915" y="707.13" font-size="14.98" style="stroke-width:0.3px" textLength="40" lengthAdjust="spacingAndGlyphs">580 cm</text>
<text x="1000.79" y="707.13" font-size="14.98" style="stroke-width:0.3px" textLength="13.61" lengthAdjust="spacingAndGlyphs">58</text>
<text x="1070.76" y="707.13" font-size="14.98" style="stroke-width:0.3px" textLength="19.28" lengthAdjust="spacingAndGlyphs">116</text>
<text x="915" y="730.67" font-size="14.98" style="stroke-width:0.3px" textLength="40" lengthAdjust="spacingAndGlyphs">590 cm</text>
<text x="1000.79" y="730.67" font-size="14.98" style="stroke-width:0.3px" textLength="13.61" lengthAdjust="spacingAndGlyphs">59</text>
<text x="1070.76" y="730.67" font-size="14.98" style="stroke-width:0.3px" textLength="19.28" lengthAdjust="spacingAndGlyphs">118</text>
<text x="915" y="754.21" font-size="14.98" style="stroke-width:0.3px" textLength="40" lengthAdjust="spacingAndGlyphs">600 cm</text>
<text x="1000.79" y="754.21" font-size="14.98" style="stroke-width:0.3px" textLength="13.61" lengthAdjust="spacingAndGlyphs">60</text>
<text x="1070.31" y="754.21" font-size="14.98" style="stroke-width:0.3px" textLength="20.18" lengthAdjust="spacingAndGlyphs">120</text>
<text x="1043.75" y="827.5" font-size="10.4" style="stroke-width:0.21px;fill:#111;stroke:#111" textLength="126.75" lengthAdjust="spacingAndGlyphs">Molis IL, Kea IL, Agros IL, 04/2024</text>
</svg>
</body></html>
